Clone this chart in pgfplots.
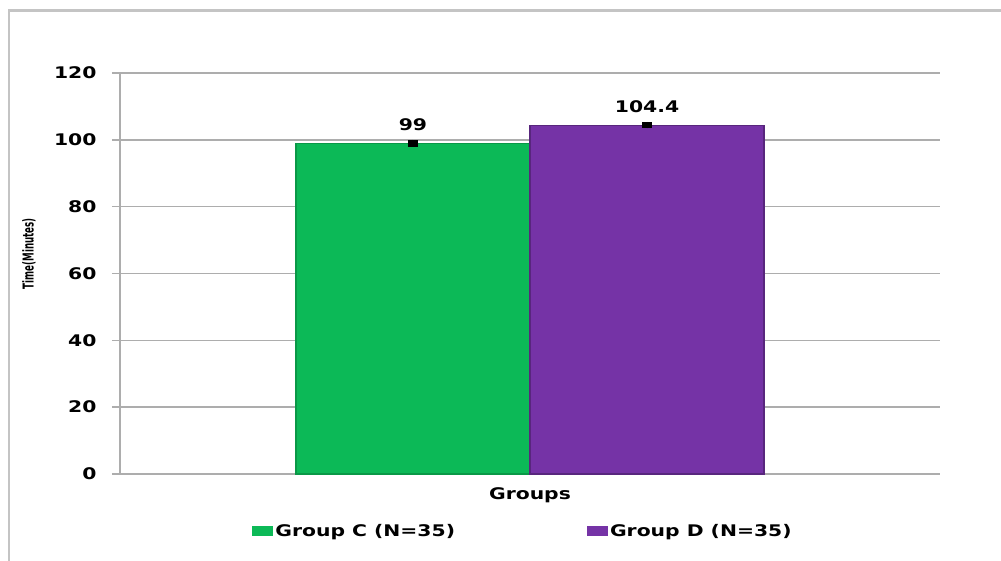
\documentclass[border=0pt]{standalone}
\usepackage{pgfplots}
\pgfplotsset{compat=1.18}
\usepackage{fontspec}
\setmainfont{DejaVu Sans}
\newfontfamily\wide[FakeStretch=1.27]{DejaVu Sans}
\newfontfamily\narrowf[FakeStretch=0.58]{DejaVu Sans}
\definecolor{cgreen}{HTML}{0CB957}
\definecolor{cpurple}{HTML}{7533A6}
\definecolor{gridc}{HTML}{ADADAD}
\definecolor{framec}{HTML}{C4C4C4}
\begin{document}
\begin{tikzpicture}
\useasboundingbox (0pt,0pt) rectangle (1001pt,-561pt);
\draw[color=framec, line width=2.5pt] (9pt,-561pt) -- (9pt,-10.5pt) -- (1001pt,-10.5pt);
\begin{axis}[
  at={(120pt,-474pt)}, anchor=south west,
  scale only axis, width=820pt, height=401pt,
  xmin=-1.252, xmax=2.252, ymin=0, ymax=120,
  xtick=\empty, ytick={0,20,...,120},
  axis x line*=bottom, axis y line*=left,
  axis line style={gridc, line width=1.5pt},
  ymajorgrids, grid style={gridc, line width=1.5pt},
  tick align=outside, major tick length=8pt,
  tick style={gridc, line width=1.5pt},
  /pgf/number format/assume math mode=true,
  yticklabel style={font=\wide\bfseries\fontsize{16}{16}\selectfont, xshift=-12pt},
  xlabel={Groups},
  xlabel style={font=\wide\bfseries\fontsize{16}{16}\selectfont, at={(axis description cs:0.5,-0.052)}, anchor=center},
  ylabel={Time(Minutes)},
  ylabel style={font=\narrowf\bfseries\fontsize{15}{15}\selectfont, at={(axis description cs:-0.111,0.549)}, anchor=center, rotate=0},
  clip=false,
  bar width=1,
  legend columns=2,
  legend style={at={(0.4915,-0.142)}, anchor=center, draw=none, fill=none,
    font=\wide\bfseries\fontsize{16}{16}\selectfont,
    /tikz/every even column/.append style={column sep=130pt}},
  legend image code/.code={\fill[#1, draw=none] (0pt,-5pt) rectangle (21pt,5pt);},
  nodes near coords style={font=\wide\bfseries\fontsize{16}{16}\selectfont, anchor=south, yshift=8.5pt, black},
]
\addplot[ybar, bar shift=0pt, fill=cgreen, draw=cgreen!82!black, line width=1.2pt,
  nodes near coords={99},
  error bars/.cd, y dir=both, y explicit, error mark=none,
  error bar style={line width=10pt, black}]
  coordinates {(0,99) +- (0,1.0)};
\addlegendentry{Group C (N=35)}
\addplot[ybar, bar shift=0pt, fill=cpurple, draw=cpurple!75!black, line width=1.2pt,
  nodes near coords={104.4},
  error bars/.cd, y dir=both, y explicit, error mark=none,
  error bar style={line width=10pt, black}]
  coordinates {(1,104.4) +- (0,1.0)};
\addlegendentry{Group D (N=35)}
\end{axis}
\end{tikzpicture}
\end{document}
